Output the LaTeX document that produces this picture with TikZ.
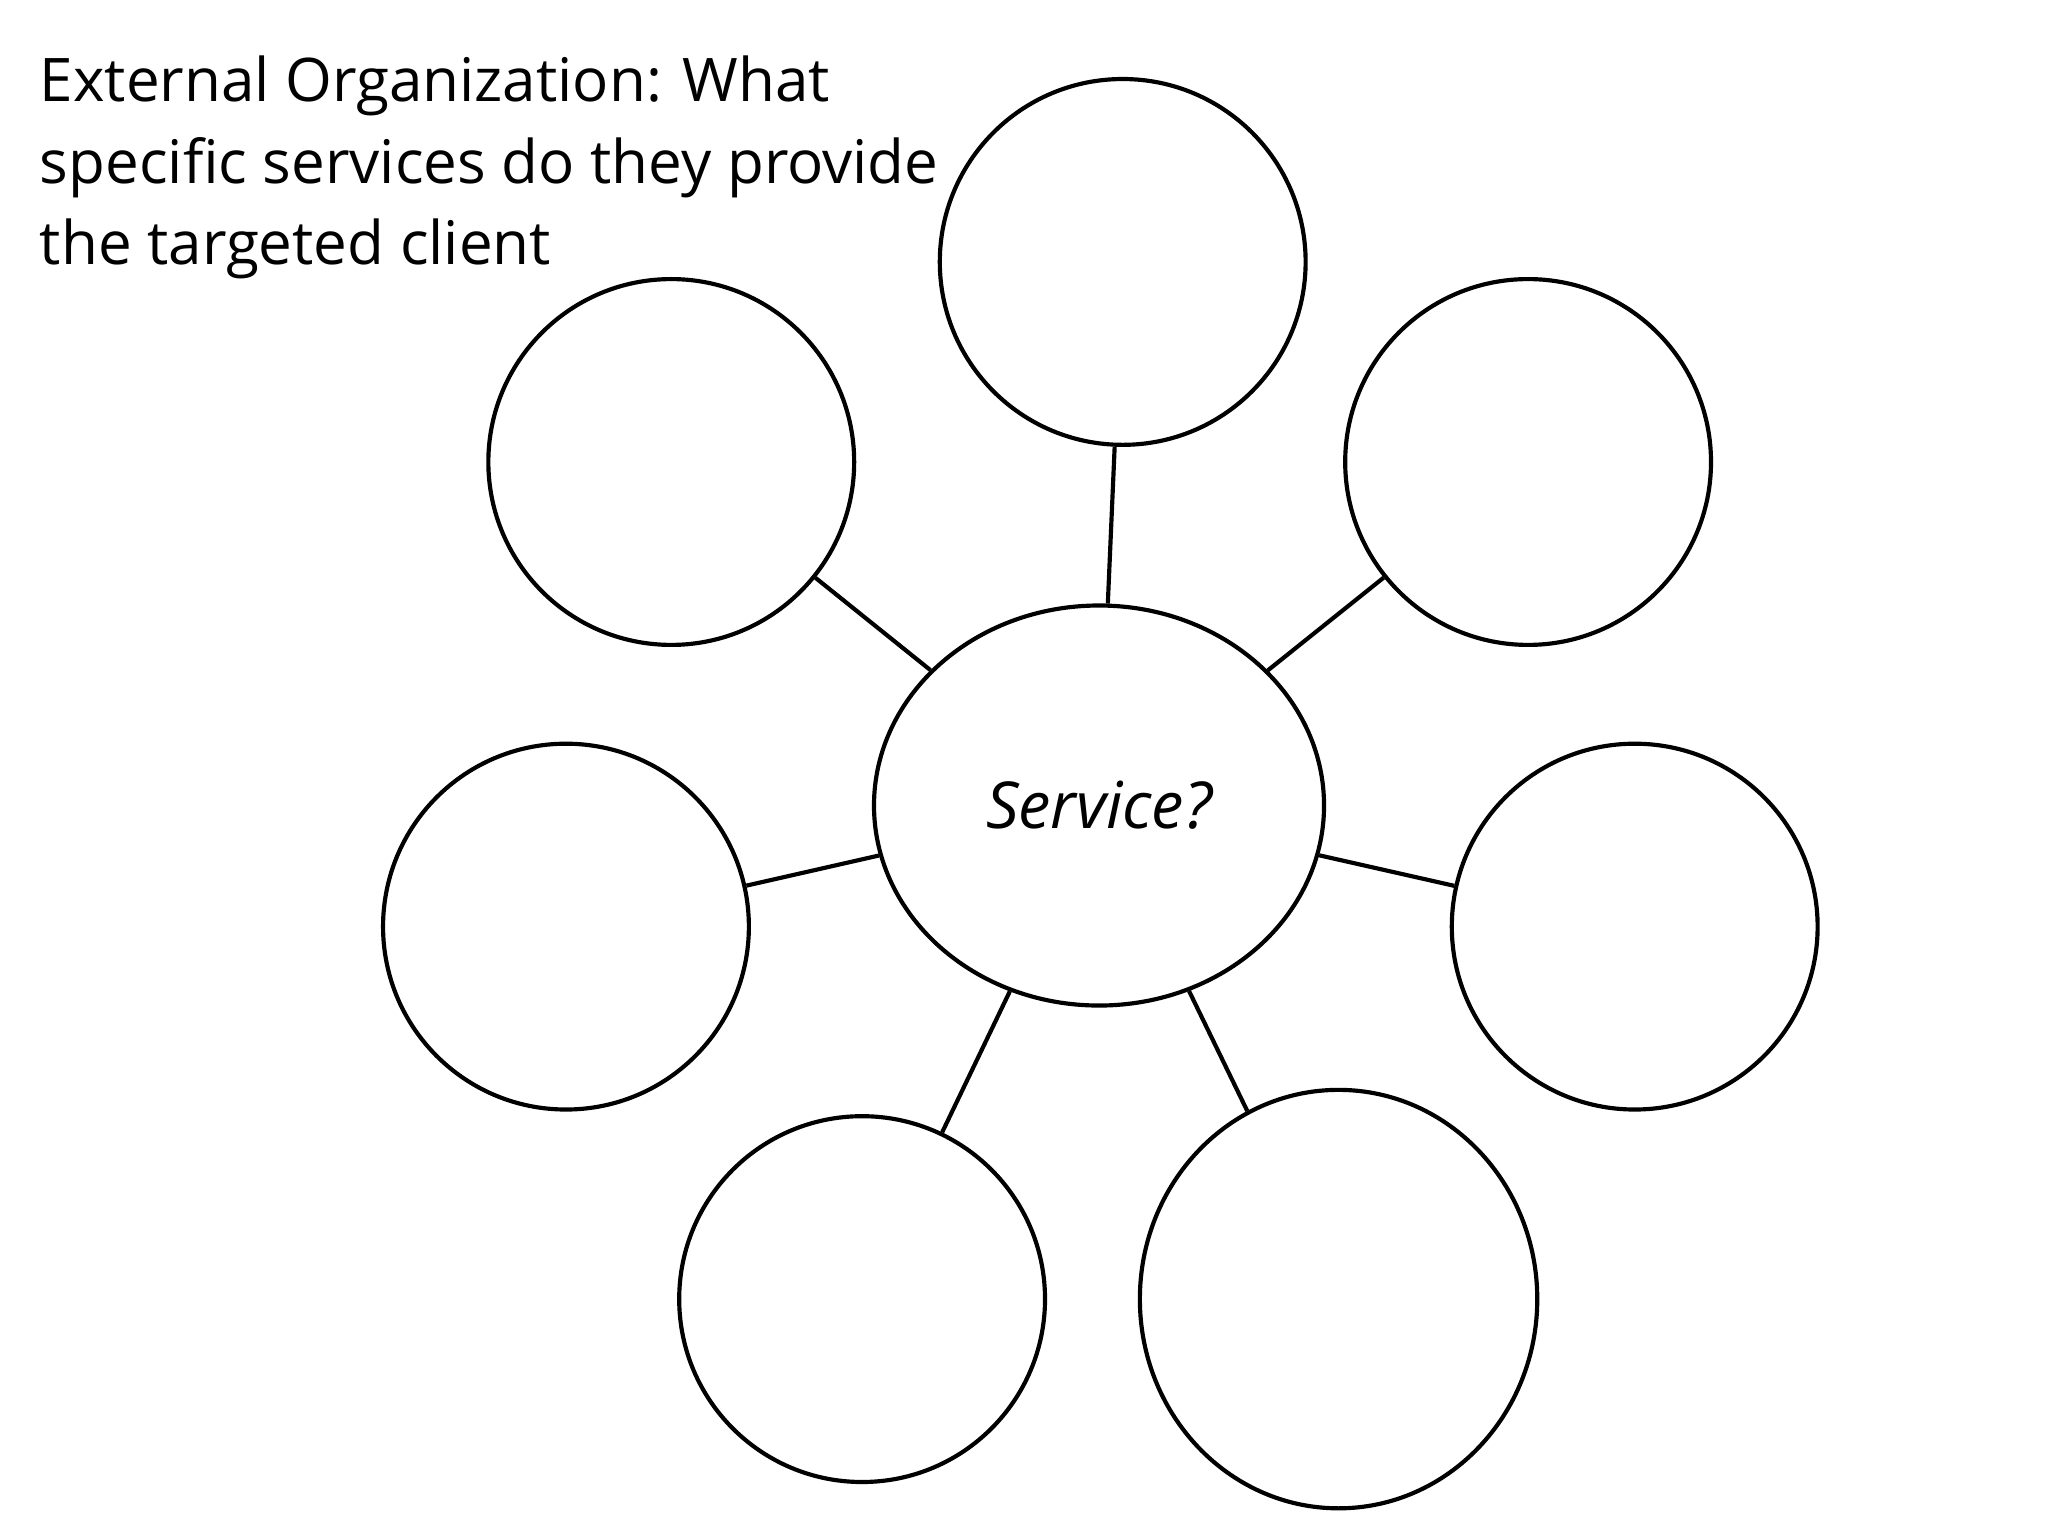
\documentclass[tikz,border=0pt]{standalone}
\usepackage{fontspec}
\setmainfont{Open Sans}
\usetikzlibrary{shapes.geometric}
\begin{document}
\begin{tikzpicture}[x=0.02cm,y=-0.02cm,
  bub/.style={draw,ellipse,line width=1.8pt,inner sep=0pt,minimum width=5.56cm,minimum height=5.56cm},
  link/.style={line width=1.8pt}]
\useasboundingbox (0,0) rectangle (1556,1167);
\node[anchor=north west,align=left,font=\fontsize{26}{35.3}\selectfont,inner sep=0pt] (title) at (30,42)
  {External Organization: What\\specific services do they provide\\the targeted client};
\node[bub,minimum width=6.84cm,minimum height=6.08cm,font=\fontsize{28}{32}\selectfont\itshape] (c) at (835,612) {Service?};
\node[bub] (t) at (853,199) {};
\node[bub] (ul) at (510,351) {};
\node[bub] (ur) at (1161,351) {};
\node[bub] (l) at (430,704) {};
\node[bub] (r) at (1242,704) {};
\node[bub] (bl) at (655,987) {};
\node[bub,minimum width=6.04cm,minimum height=6.36cm] (br) at (1017,987) {};
\foreach \n in {t,ul,ur,l,r,bl,br} \draw[link] (c) -- (\n);
\end{tikzpicture}
\end{document}
